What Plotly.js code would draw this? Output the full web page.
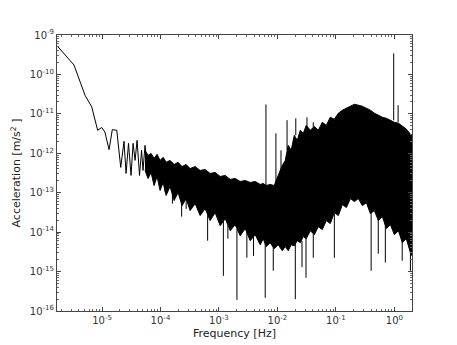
<!DOCTYPE html>
<html>
<head>
<meta charset="utf-8">
<script src="https://cdn.plot.ly/plotly-3.0.1.min.js"></script>
<style>
  html, body { margin: 0; padding: 0; background: #fff; }
  #chart { width: 457px; height: 345px; }
</style>
</head>
<body>
<div id="chart"></div>
<script>
// low-frequency part, a single visible line
const lineFreq = [1.72e-6, 3.32e-6, 5.12e-6, 6.67e-6, 8.43e-6, 9.9e-6, 1.12e-5, 1.32e-5, 1.50e-5, 1.79e-5,
                  2.09e-5, 2.38e-5, 2.58e-5, 2.84e-5, 3.14e-5, 3.40e-5, 3.68e-5, 3.98e-5, 4.38e-5, 4.75e-5,
                  5.03e-5, 5.44e-5, 5.9e-5];
const lineAcc  = [5.25e-10, 1.73e-10, 2.97e-11, 1.50e-11, 3.83e-12, 4.5e-12, 3.47e-12, 1.24e-12, 3.98e-12, 3.83e-12,
                  4.38e-13, 2.01e-12, 3.08e-13, 1.79e-12, 2.74e-13, 1.79e-12, 6.6e-13, 2.13e-12, 2.74e-13, 1.19e-12,
                  3.67e-13, 1.59e-12, 4.9e-13];

// dense noise band: upper and lower envelope (jagged)
const bandFreq = [5.44e-5, 6.13e-5, 6.91e-5, 7.77e-5, 8.75e-5, 9.84e-5, 1.11e-4, 1.25e-4, 1.46e-4, 1.71e-4,
                  2.0e-4, 2.34e-4, 2.74e-4, 3.21e-4, 3.91e-4, 4.77e-4, 5.8e-4, 7.06e-4, 8.6e-4, 1.05e-3,
                  1.28e-3, 1.56e-3, 1.89e-3, 2.31e-3, 2.81e-3, 3.42e-3, 4.17e-3, 5.07e-3, 5.71e-3, 6.43e-3,
                  7.53e-3, 8.81e-3, 1.03e-2, 1.21e-2, 1.36e-2, 1.53e-2, 1.72e-2, 1.94e-2, 2.18e-2, 2.46e-2,
                  2.77e-2, 3.11e-2, 3.65e-2, 4.27e-2, 5.0e-2, 5.85e-2, 6.85e-2, 8.02e-2, 9.4e-2, 0.110,
                  0.129, 0.151, 0.177, 0.207, 0.242, 0.283, 0.332, 0.388, 0.455, 0.532,
                  0.623, 0.730, 0.855, 1.0, 1.17, 1.37, 1.60, 1.88, 2.0];
const bandTop = [1.19e-12, 8.85e-13, 9.9e-13, 7.4e-13, 9.4e-13, 6.6e-13, 7.9e-13, 5.9e-13, 6.6e-13, 5.2e-13,
                 5.9e-13, 4.6e-13, 5.2e-13, 4.1e-13, 4.6e-13, 3.67e-13, 3.89e-13, 3.08e-13, 3.27e-13, 2.58e-13,
                 2.74e-13, 2.17e-13, 2.3e-13, 1.93e-13, 2.04e-13, 1.82e-13, 1.93e-13, 1.62e-13, 1.71e-13, 1.52e-13,
                 1.62e-13, 1.52e-13, 2.74e-13, 4.9e-13, 6.6e-13, 1.59e-12, 1.19e-12, 2.85e-12, 2.13e-12, 3.83e-12,
                 3.21e-12, 5.1e-12, 3.83e-12, 4.8e-12, 3.83e-12, 6.1e-12, 5.1e-12, 8.2e-12, 7.3e-12, 1.04e-11,
                 1.24e-11, 1.39e-11, 1.56e-11, 1.75e-11, 1.66e-11, 1.56e-11, 1.39e-11, 1.24e-11, 1.04e-11, 9.2e-12,
                 8.2e-12, 7.7e-12, 6.9e-12, 6.1e-12, 5.8e-12, 4.8e-12, 4.1e-12, 3.03e-12, 2.85e-12];
const bandBottom = [3.67e-13, 2.3e-13, 3.27e-13, 1.52e-13, 2.58e-13, 1.14e-13, 1.82e-13, 8.5e-14, 1.44e-13, 6.33e-14,
                    1.01e-13, 4.7e-14, 7.1e-14, 3.52e-14, 5.3e-14, 2.63e-14, 3.96e-14, 1.96e-14, 3.13e-14, 1.46e-14,
                    2.2e-14, 1.09e-14, 1.55e-14, 8.1e-15, 1.23e-14, 6.08e-15, 8.6e-15, 4.8e-15, 6.8e-15, 4.3e-15,
                    5.4e-15, 3.8e-15, 4.8e-15, 3.38e-15, 4.3e-15, 3.38e-15, 4.8e-15, 4.5e-15, 6.08e-15, 5.4e-15,
                    7.7e-15, 6.8e-15, 1.09e-14, 8.6e-15, 1.38e-14, 1.16e-14, 1.96e-14, 1.65e-14, 3.13e-14, 2.63e-14,
                    5.0e-14, 4.2e-14, 7.1e-14, 5.97e-14, 7.1e-14, 4.7e-14, 5.6e-14, 2.96e-14, 3.52e-14, 1.96e-14,
                    2.48e-14, 1.23e-14, 1.55e-14, 8.6e-15, 1.09e-14, 5.4e-15, 6.8e-15, 3.0e-15, 2.52e-15];

// single spikes sticking out of the band
const spikeFreq = [6.36e-3, 9.42e-3, 1.15e-2, 1.46e-2, 2.06e-2, 3.2e-2, 4.1e-2, 0.973, 1.157,
                   1.2e-4, 1.6e-4, 2.3e-4, 2.75e-4, 6.4e-4, 1.19e-3, 1.42e-3, 2.03e-3, 3.0e-3, 3.9e-3,
                   6.18e-3, 8.48e-3, 2.02e-2, 2.63e-2, 3.08e-2, 4.10e-2, 9.4e-2, 0.40, 0.53, 0.70, 1.36, 1.88];
const spikeHigh = [1.73e-11, 3.21e-12, 1.19e-12, 6.9e-12, 7.7e-12, 8.2e-12, 6.1e-12, 3.42e-10, 1.66e-11,
                   2e-13, 1.5e-13, 1e-13, 8e-14, 4e-14, 2e-14, 1.5e-14, 1.2e-14, 1e-14, 8e-15,
                   6e-15, 5e-15, 5e-15, 6e-15, 7e-15, 9e-15, 3e-14, 5e-14, 3e-14, 2e-14, 7e-15, 4e-15];
const spikeLow  = [1.4e-13, 1.6e-13, 3e-13, 1.19e-12, 2.85e-12, 4.5e-12, 4.5e-12, 6.9e-12, 6.1e-12,
                   1.03e-13, 5.3e-14, 2.48e-14, 3.9e-14, 6.08e-15, 7.8e-16, 6.8e-15, 1.91e-16, 2.24e-15, 2.5e-15,
                   2.15e-16, 1.05e-15, 2.0e-16, 1.3e-15, 6.95e-16, 2.24e-15, 2.24e-15, 1.05e-15, 2.84e-15, 1.7e-15,
                   1.88e-15, 1.05e-15];

const yTickVals = [1e-16, 1e-15, 1e-14, 1e-13, 1e-12, 1e-11, 1e-10, 1e-9];
const yTickText = ['10<sup>-16</sup>', '10<sup>-15</sup>', '10<sup>-14</sup>', '10<sup>-13</sup>',
                   '10<sup>-12</sup>', '10<sup>-11</sup>', '10<sup>-10</sup>', '10<sup>-9</sup>'];
const xTickVals = [1e-5, 1e-4, 1e-3, 1e-2, 1e-1, 1];
const xTickText = ['10<sup>-5</sup>', '10<sup>-4</sup>', '10<sup>-3</sup>', '10<sup>-2</sup>', '10<sup>-1</sup>', '10<sup>0</sup>'];

const sx = [], sy = [];
spikeFreq.forEach((f, i) => {
  sx.push(f, f, null);
  sy.push(spikeHigh[i], spikeLow[i], null);
});

const traces = [
  {
    x: bandFreq.concat(bandFreq.slice().reverse()),
    y: bandTop.concat(bandBottom.slice().reverse()),
    type: 'scatter', mode: 'lines', fill: 'toself',
    fillcolor: '#000', line: { color: '#000', width: 1 }, hoverinfo: 'skip'
  },
  {
    x: lineFreq, y: lineAcc, type: 'scatter', mode: 'lines',
    line: { color: '#000', width: 1 }
  },
  {
    x: sx, y: sy, type: 'scatter', mode: 'lines',
    line: { color: '#000', width: 1 }, connectgaps: false
  }
];

const axisCommon = {
  type: 'log', showgrid: false, zeroline: false,
  showline: true, linecolor: '#444', linewidth: 1, mirror: 'allticks',
  ticks: 'inside', ticklen: 4, tickcolor: '#444',
  tickmode: 'array',
  tickfont: { family: 'DejaVu Sans', size: 10, color: '#333' },
  minor: { ticks: 'inside', ticklen: 2, tickcolor: '#666', dtick: 'D1' }
};

const layout = {
  width: 457, height: 345,
  margin: { l: 57, r: 45, t: 35, b: 34 },
  paper_bgcolor: '#fff', plot_bgcolor: '#fff',
  showlegend: false,
  xaxis: Object.assign({}, axisCommon, {
    range: [Math.log10(1.7e-6), Math.log10(2.0)],
    tickvals: xTickVals, ticktext: xTickText,
    title: { text: 'Frequency [Hz]', font: { family: 'DejaVu Sans', size: 11, color: '#222' }, standoff: 4 }
  }),
  yaxis: Object.assign({}, axisCommon, {
    range: [-16, -9],
    tickvals: yTickVals, ticktext: yTickText,
    title: { text: 'Acceleration [m/s<sup>2</sup> ]', font: { family: 'DejaVu Sans', size: 11, color: '#222' }, standoff: 6 }
  })
};

Plotly.newPlot('chart', traces, layout, { displayModeBar: false, staticPlot: true });
</script>
</body>
</html>
